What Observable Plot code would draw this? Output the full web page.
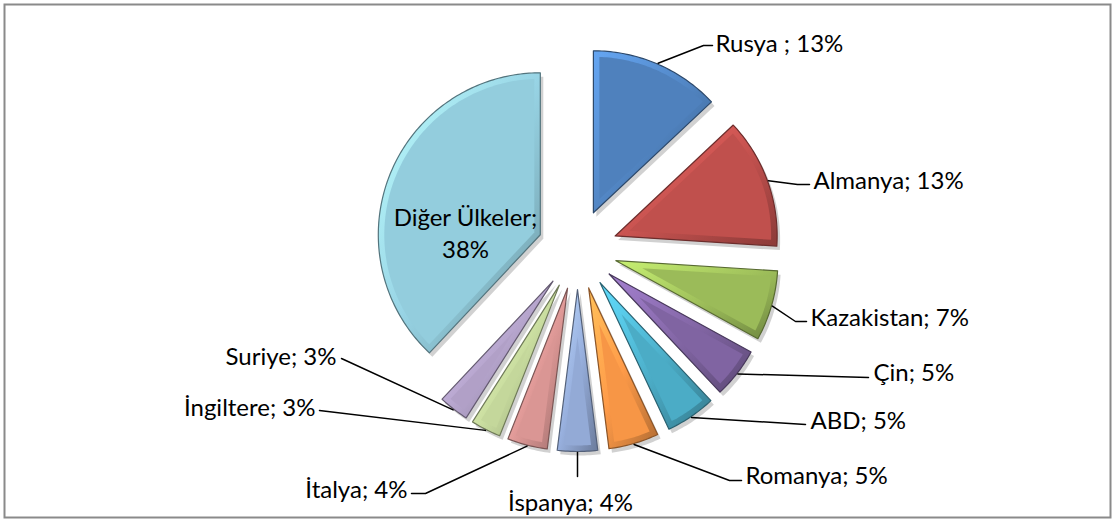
<!DOCTYPE html>
<html><head><meta charset="utf-8">
<script src="https://cdn.jsdelivr.net/npm/d3@7"></script>
<script src="https://cdn.jsdelivr.net/npm/@observablehq/plot@0.6"></script>
<style>body{margin:0;background:#fff;overflow:hidden}</style>
</head><body><div id="chart"></div>
<script>
// ---- data ----
const countries = ["Rusya","Almanya","Kazakistan","Çin","ABD","Romanya","İspanya","İtalya","İngiltere","Suriye","Diğer Ülkeler"];
const shares = [13,13,7,5,5,5,4,4,3,3,38];
const labelTexts = ["Rusya ; 13%","Almanya; 13%","Kazakistan; 7%","Çin; 5%","ABD; 5%","Romanya; 5%","İspanya; 4%","İtalya; 4%","İngiltere; 3%","Suriye; 3%","Diğer Ülkeler;\n38%"];
const colors = ["#4f81bd","#c0504d","#9bbb59","#8064a2","#4bacc6","#f79646","#93aad6","#da9694","#c4d79b","#b1a0c7","#93cddd"];

// ---- layout (pixels) ----
const W = 1115, H = 521, CX = 577, CY = 249, R = 162, EXPLODE = 40, BEVEL = 6;
const labelLayout = [
  {anchor:"start",  x:715, y:41,  elbow:[703,45],  end:[712,45]},
  {anchor:"start",  x:813, y:178, elbow:[797,184], end:[809,184]},
  {anchor:"start",  x:810, y:315, elbow:[795,321], end:[806,321]},
  {anchor:"start",  x:873, y:370, elbow:[868,377], end:[868,377]},
  {anchor:"start",  x:810, y:418, elbow:[805,424], end:[805,424]},
  {anchor:"start",  x:745, y:473, elbow:[729,480], end:[741,480]},
  {anchor:"middle", x:570, y:500, elbow:[577,476], end:[577,476]},
  {anchor:"end",    x:407, y:487, elbow:[425,493], end:[411,493]},
  {anchor:"end",    x:315, y:405, elbow:[319,410], end:[319,410]},
  {anchor:"end",    x:336, y:354, elbow:[341,358], end:[341,358]},
  {anchor:"middle", x:465, y:231, inside:true}
];

const dir = a => [Math.sin(a), -Math.cos(a)];
const arcs = d3.pie().sort(null).value(d => d)(shares);
const outerPts = [], innerPts = [], leaderPts = [], labelRows = [];
arcs.forEach((p, i) => {
  const name = countries[i];
  const a0 = p.startAngle, a1 = p.endAngle, mid = (a0 + a1) / 2, half = (a1 - a0) / 2;
  const [mx, my] = dir(mid);
  const ox = CX + EXPLODE * mx, oy = CY + EXPLODE * my;
  // outer polygon
  outerPts.push({name, x: ox, y: oy});
  const n = Math.max(6, Math.ceil((a1 - a0) / (Math.PI / 180)));
  for (let k = 0; k <= n; k++) {
    const a = a0 + (a1 - a0) * k / n, [dx, dy] = dir(a);
    outerPts.push({name, x: ox + R * dx, y: oy + R * dy});
  }
  // inset polygon (bevel face)
  const s = BEVEL / Math.sin(half), ri = R - BEVEL, del = Math.asin(BEVEL / ri);
  innerPts.push({name, x: ox + s * mx, y: oy + s * my});
  for (let k = 0; k <= n; k++) {
    const a = a0 + del + (a1 - a0 - 2 * del) * k / n, [dx, dy] = dir(a);
    innerPts.push({name, x: ox + ri * dx, y: oy + ri * dy});
  }
  const L = labelLayout[i];
  labelRows.push({name, text: labelTexts[i], x: L.x, y: L.y, anchor: L.anchor});
  if (!L.inside) {
    leaderPts.push({name, x: ox + (R + 1) * mx, y: oy + (R + 1) * my});
    leaderPts.push({name, x: L.elbow[0], y: L.elbow[1]});
    leaderPts.push({name, x: L.end[0], y: L.end[1]});
  }
});

const bandMarks = countries.map((c, i) => Plot.line(outerPts.filter(d => d.name === c), {
  x: "x", y: "y", curve: "linear-closed", fill: `url(#bevel${i})`,
  stroke: d3.color(colors[i]).darker(1.6).formatHex(), strokeWidth: 1.2
}));

const textMark = anchor => Plot.text(labelRows.filter(d => d.anchor === anchor), {
  x: "x", y: "y", text: "text", textAnchor: anchor, fontSize: 24, fontFamily: "Lato",
  fill: "#000", lineHeight: 1.33
});

const chart = Plot.plot({
  width: W, height: H,
  marginTop: 4, marginLeft: 4, marginRight: 5, marginBottom: 4,
  x: {domain: [4, W - 5], range: [4, W - 5], axis: null},
  y: {domain: [4, H - 4], range: [4, H - 4], axis: null},
  color: {domain: countries, range: colors},
  style: {background: "#fff", overflow: "visible"},
  marks: [
    Plot.frame({stroke: "#8a8a8a", strokeWidth: 2}),
    Plot.line(outerPts, {x: "x", y: "y", z: "name", curve: "linear-closed", fill: "#000", fillOpacity: 0.18, stroke: "none", dx: 3, dy: 4}),
    ...bandMarks,
    Plot.line(innerPts, {x: "x", y: "y", z: "name", curve: "linear-closed", fill: "name", stroke: "none"}),
    Plot.line(leaderPts, {x: "x", y: "y", z: "name", stroke: "#000", strokeWidth: 1.5}),
    textMark("start"), textMark("middle"), textMark("end")
  ]
});

// gradient definitions for the bevel band
const ns = "http://www.w3.org/2000/svg";
const defs = document.createElementNS(ns, "defs");
colors.forEach((c, i) => {
  const g = document.createElementNS(ns, "linearGradient");
  g.setAttribute("id", `bevel${i}`);
  g.setAttribute("x1", "0"); g.setAttribute("y1", "0");
  g.setAttribute("x2", "1"); g.setAttribute("y2", "1");
  [[0, d3.color(c).brighter(0.7)], [0.5, d3.color(c).brighter(0.1)], [1, d3.color(c).darker(0.9)]].forEach(([o, col]) => {
    const st = document.createElementNS(ns, "stop");
    st.setAttribute("offset", o);
    st.setAttribute("stop-color", col.formatHex());
    g.appendChild(st);
  });
  defs.appendChild(g);
});
chart.insertBefore(defs, chart.firstChild);
document.getElementById("chart").appendChild(chart);
</script>
</body></html>
